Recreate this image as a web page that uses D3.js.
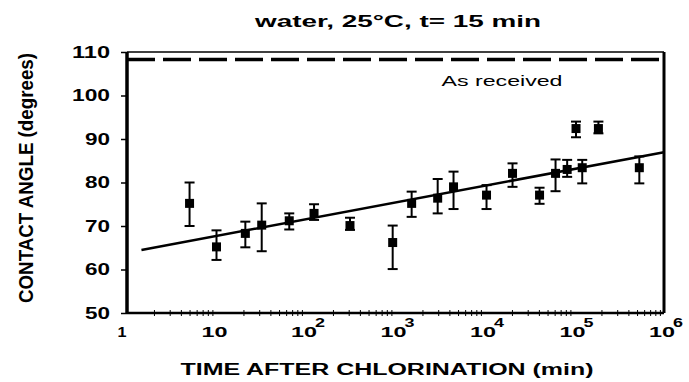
<!DOCTYPE html>
<html>
<head>
<meta charset="utf-8">
<script src="https://cdn.jsdelivr.net/npm/d3@7"></script>
<style>
  body { margin: 0; background: #fff; }
  svg { display: block; font-family: "Liberation Sans", Arial, sans-serif; }
</style>
</head>
<body>
<svg id="chart" width="689" height="382"></svg>
<script>
// time after chlorination (min) and contact angle (degrees)
var times = [5, 10, 21, 32, 65, 123, 310, 930, 1515, 2960, 4450, 10400, 20300, 40700, 61400, 82800, 104000, 122000, 185000, 530000]
var angles = [75.2, 65.2, 68.3, 70.2, 71.2, 72.9, 70.1, 66.2, 75.2, 76.4, 79.0, 77.1, 82.1, 77.1, 82.1, 83.0, 92.4, 83.4, 92.4, 83.4]
var errLow = [70, 62.2, 65.1, 64.2, 69.2, 71.4, 69.1, 60.1, 72.1, 72.9, 73.9, 73.9, 79.0, 75.1, 78.0, 81.3, 90.4, 79.8, 91.3, 79.8]
var errHigh = [80, 69, 71, 75.2, 72.9, 75, 71.9, 70.1, 77.9, 80.8, 82.5, 79.4, 84.4, 78.8, 85.3, 85.2, 94.0, 85.2, 94.0, 86]

// fitted line: angle = a + b * log10(t)
var fitStart = [1.45, 63.87 + 3.85 * Math.log10(1.45)]
var fitEnd = [1e6, 63.87 + 3.85 * 6]

var asReceived = 108.3
var yTicks = [50, 60, 70, 80, 90, 100, 110]
var xExponents = [0, 1, 2, 3, 4, 5, 6]

var margin = { top: 52, right: 25, bottom: 69, left: 127 }
var width = 689 - margin.left - margin.right
var height = 382 - margin.top - margin.bottom

var svg = d3.select('#chart')
var g = svg.append('g').attr('transform', 'translate(' + margin.left + ',' + margin.top + ')')

var x = d3.scaleLog().domain([1, 1e6]).range([0, width])
var y = d3.scaleLinear().domain([50, 110]).range([height, 0])

// y axis
var yAxis = g.append('g')
  .call(d3.axisLeft(y).tickValues(yTicks).tickSize(6).tickPadding(11))
yAxis.select('.domain').remove()
yAxis.selectAll('line').attr('stroke-width', 1.5)
yAxis.selectAll('text')
  .attr('font-size', 16).attr('font-weight', 'bold').attr('fill', '#000')
  .attr('textLength', d => d >= 100 ? 38 : 25)
  .attr('lengthAdjust', 'spacingAndGlyphs')

// x axis: minor ticks + decades
var minor = []
xExponents.forEach(function (e) {
  if (e < 6) for (var k = 2; k <= 9; k++) minor.push(k * Math.pow(10, e))
})
var xAxis = g.append('g').attr('transform', 'translate(0,' + height + ')')
  .call(d3.axisBottom(x).tickValues(minor).tickSize(3).tickFormat(''))
xAxis.select('.domain').remove()
xAxis.selectAll('line').attr('y1', -3).attr('y2', 3).attr('stroke-width', 1)

var labels = g.append('g').attr('transform', 'translate(0,' + height + ')')
  .selectAll('g').data(xExponents).join('g')
  .attr('transform', d => 'translate(' + x(Math.pow(10, d)) + ',0)')
labels.append('text')
  .attr('y', 24).attr('text-anchor', 'middle')
  .attr('font-size', 15).attr('font-weight', 'bold')
  .attr('textLength', d => d === 0 ? 9 : 26).attr('lengthAdjust', 'spacingAndGlyphs')
  .attr('x', d => d === 0 ? -5 : -2)
  .text(d => d === 0 ? '1' : '10')
labels.filter(d => d > 1).append('text')
  .attr('x', 9).attr('y', 14)
  .attr('font-size', 12).attr('font-weight', 'bold')
  .attr('textLength', 10).attr('lengthAdjust', 'spacingAndGlyphs')
  .text(d => d)

// frame
g.append('line').attr('x1', 0).attr('x2', width).attr('y1', 0).attr('y2', 0)
  .attr('stroke', '#000').attr('stroke-width', 1.5)
g.append('line').attr('x1', 0).attr('x2', width).attr('y1', height).attr('y2', height)
  .attr('stroke', '#000').attr('stroke-width', 2.5)
g.append('line').attr('x1', 0).attr('x2', 0).attr('y1', 0).attr('y2', height)
  .attr('stroke', '#000').attr('stroke-width', 3.5)
g.append('line').attr('x1', width).attr('x2', width).attr('y1', 0).attr('y2', height)
  .attr('stroke', '#000').attr('stroke-width', 3)

// as received level
g.append('line')
  .attr('x1', 0).attr('x2', width)
  .attr('y1', y(asReceived)).attr('y2', y(asReceived))
  .attr('stroke', '#000').attr('stroke-width', 3.5)
  .attr('stroke-dasharray', '28,8')
g.append('text')
  .attr('x', 375).attr('y', y(asReceived) + 27)
  .attr('text-anchor', 'middle').attr('font-size', 15)
  .attr('textLength', 121).attr('lengthAdjust', 'spacingAndGlyphs')
  .text('As received')

// fit line
g.append('line')
  .attr('x1', x(fitStart[0])).attr('y1', y(fitStart[1]))
  .attr('x2', x(fitEnd[0])).attr('y2', y(fitEnd[1]))
  .attr('stroke', '#000').attr('stroke-width', 2.5)

// error bars and markers
var pts = times.map((t, i) => ({ t: t, v: angles[i], lo: errLow[i], hi: errHigh[i] }))
var pg = g.selectAll('.pt').data(pts).join('g').attr('class', 'pt')
  .attr('transform', d => 'translate(' + x(d.t) + ',0)')
pg.append('line').attr('y1', d => y(d.lo)).attr('y2', d => y(d.hi))
  .attr('stroke', '#000').attr('stroke-width', 2)
pg.append('line').attr('x1', -5).attr('x2', 5).attr('y1', d => y(d.hi)).attr('y2', d => y(d.hi))
  .attr('stroke', '#000').attr('stroke-width', 2)
pg.append('line').attr('x1', -5).attr('x2', 5).attr('y1', d => y(d.lo)).attr('y2', d => y(d.lo))
  .attr('stroke', '#000').attr('stroke-width', 2)
pg.append('rect').attr('x', -4.5).attr('width', 9).attr('height', 9)
  .attr('y', d => y(d.v) - 4.5).attr('fill', '#000')

// titles
svg.append('text')
  .attr('x', 398).attr('y', 27).attr('text-anchor', 'middle')
  .attr('font-size', 17).attr('font-weight', 'bold')
  .attr('textLength', 286).attr('lengthAdjust', 'spacingAndGlyphs')
  .text('water, 25\u00B0C, t= 15 min')
svg.append('text')
  .attr('x', 387).attr('y', 375).attr('text-anchor', 'middle')
  .attr('font-size', 16).attr('font-weight', 'bold')
  .attr('textLength', 413).attr('lengthAdjust', 'spacingAndGlyphs')
  .text('TIME AFTER CHLORINATION (min)')
svg.append('text')
  .attr('transform', 'translate(33,178) rotate(-90)')
  .attr('text-anchor', 'middle')
  .attr('font-size', 21).attr('font-weight', 'bold')
  .attr('textLength', 250).attr('lengthAdjust', 'spacingAndGlyphs')
  .text('CONTACT ANGLE (degrees)')
</script>
</body>
</html>
